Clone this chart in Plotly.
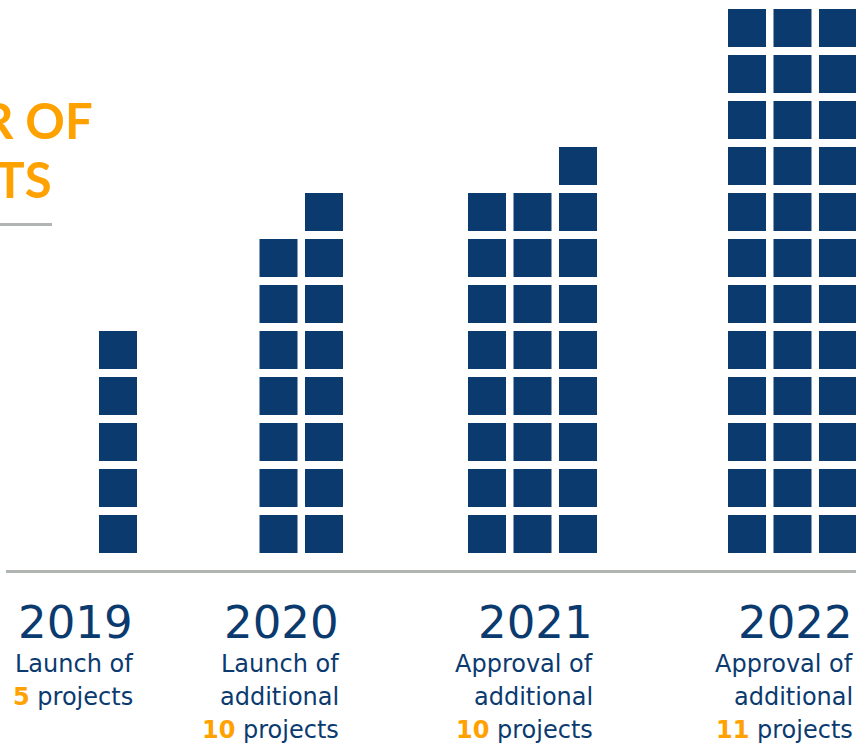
import plotly.graph_objects as go

# ---------------- data ----------------
years = ["2019", "2020", "2021", "2022"]
new_projects = [5, 10, 10, 11]
# number of squares in each column of each year's stack
column_heights = [[5], [7, 8], [8, 8, 9], [12, 12, 12]]
caption_lines = [
    ["Launch of"],
    ["Launch of", "additional"],
    ["Approval of", "additional"],
    ["Approval of", "additional"],
]
title_lines = ["NUMBER OF", "PROJECTS"]

# ---------------- style / layout ----------------
W, H = 856, 749
BLUE = "#0b3a6f"
ORANGE = "#ffa200"
GREY = "#b0b5b2"
group_last_col_x = [118, 324, 578, 838]   # x of the right-most column of each group
col_pitch = 45.5
row_pitch = 46.0
bottom_row_px = 534.0                     # pixel centre of the bottom row
sq_size = 38

# y axis in "row" units
y0 = -(H - bottom_row_px) / row_pitch
y1 = bottom_row_px / row_pitch

xs, ys = [], []
for g, cols in enumerate(column_heights):
    n = len(cols)
    for j, h in enumerate(cols):
        cx = group_last_col_x[g] - (n - 1 - j) * col_pitch
        for r in range(h):
            xs.append(cx)
            ys.append(r)

fig = go.Figure()
fig.add_trace(go.Scatter(
    x=xs, y=ys, mode="markers",
    marker=dict(symbol="square", size=sq_size, color=BLUE, line=dict(width=0)),
    hoverinfo="skip", showlegend=False,
))

def py(px):
    return 1 - px / H

annotations = []
BODY_FONT = "DejaVu Sans"
for g, yr in enumerate(years):
    xr = group_last_col_x[g] + sq_size / 2 - 2
    annotations.append(dict(
        x=xr, y=py(622), xref="x", yref="paper", xanchor="right", yanchor="middle",
        text=yr, showarrow=False, font=dict(family=BODY_FONT, size=45, color=BLUE),
    ))
    lines = caption_lines[g] + [
        f"<span style='color:{ORANGE}'><b>{new_projects[g]}</b></span> projects"
    ]
    for k, t in enumerate(lines):
        annotations.append(dict(
            x=xr, y=py(664 + 33 * k), xref="x", yref="paper", xanchor="right",
            yanchor="middle", text=t, showarrow=False,
            font=dict(family=BODY_FONT, size=24, color=BLUE),
        ))

# title (cropped at the left edge in the original)
annotations.append(dict(
    x=95, y=py(120), xref="x", yref="paper", xanchor="right", yanchor="middle",
    text=f"<b>{title_lines[0]}</b>", showarrow=False,
    font=dict(family="Lato", size=49, color=ORANGE),
))
annotations.append(dict(
    x=54, y=py(179), xref="x", yref="paper", xanchor="right", yanchor="middle",
    text=f"<b>{title_lines[1]}</b>", showarrow=False,
    font=dict(family="Lato", size=49, color=ORANGE),
))

shapes = [
    dict(type="line", xref="x", yref="paper", x0=6, x1=W, y0=py(571.5), y1=py(571.5),
         line=dict(color=GREY, width=3)),
    dict(type="line", xref="x", yref="paper", x0=0, x1=52, y0=py(224.5), y1=py(224.5),
         line=dict(color=GREY, width=3)),
]

fig.update_layout(
    width=W, height=H,
    margin=dict(l=0, r=0, t=0, b=0),
    paper_bgcolor="white", plot_bgcolor="white",
    xaxis=dict(range=[0, W], visible=False, fixedrange=True),
    yaxis=dict(range=[y0, y1], visible=False, fixedrange=True),
    annotations=annotations, shapes=shapes,
)

fig.write_html(
    "out.html",
    config={"displayModeBar": False},
    post_script="document.body.style.margin='0';document.body.style.overflow='hidden';",
)
